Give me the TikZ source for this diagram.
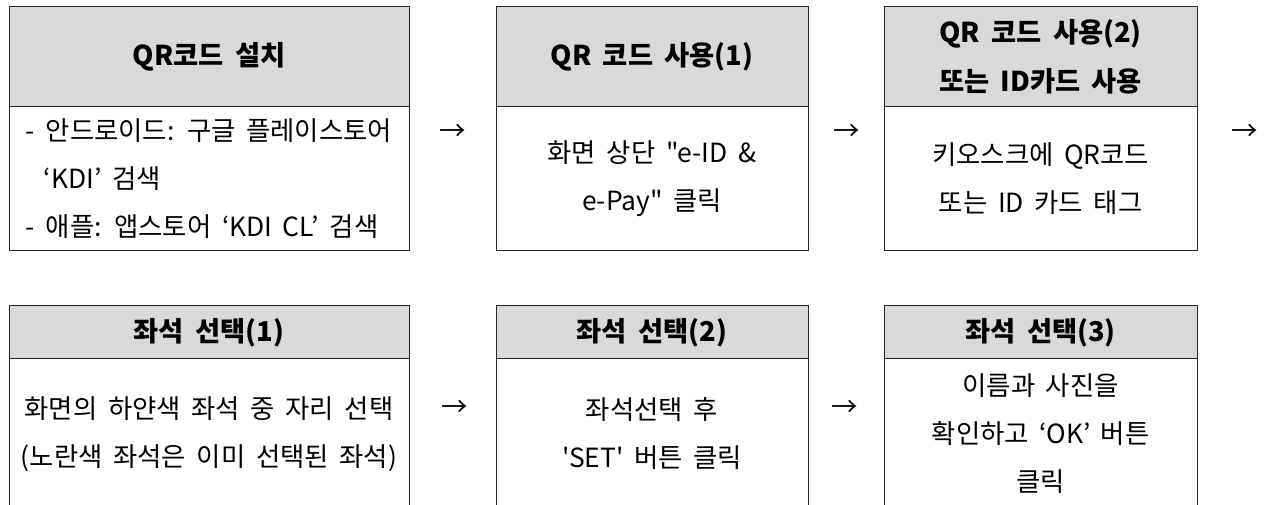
\documentclass[tikz,border=0pt]{standalone}
\usepackage{fontspec}
\setmainfont{Noto Sans CJK KR}[Ligatures=TeXOff, WordSpace=1.8]
\usetikzlibrary{positioning}
\definecolor{headgray}{HTML}{D9D9D9}
\definecolor{edgegray}{HTML}{262626}

\begin{document}
\begin{tikzpicture}[x=0.75pt, y=-0.75pt, font=\fontsize{19.8}{36}\selectfont,
    every node/.style = {inner sep=0pt, outer sep=0pt},
    head/.style = {draw=edgegray, line width=0.75pt, fill=headgray, align=center,
                   anchor=north west, font=\fontsize{20.5}{36.5}\selectfont\bfseries},
    body/.style = {draw=edgegray, line width=0.75pt, align=center}]
    \useasboundingbox (0,0) rectangle (1266,505);

    % first row
    \node[head, minimum width=300pt, minimum height=75pt] (h1) at (9,7) {QR코드 설치};
    \node[head, minimum width=234pt, minimum height=75pt] (h2) at (496,7) {QR 코드 사용(1)};
    \node[head, minimum width=235pt, minimum height=75pt] (h3) at (884,7) {QR 코드 사용(2)\\또는 ID카드 사용};
    \node[body, align=left, minimum width=300pt, minimum height=108pt] (b1) [below=0pt of h1]
        {- 안드로이드: 구글 플레이스토어\\\hspace*{13.5pt}‘KDI’ 검색\\- 애플: 앱스토어 ‘KDI CL’ 검색};
    \node[body, minimum width=234pt, minimum height=108pt] (b2) [below=0pt of h2] {화면 상단 "e-ID \&\\e-Pay" 클릭};
    \node[body, minimum width=235pt, minimum height=108pt] (b3) [below=0pt of h3] {키오스크에 QR코드\\또는 ID 카드 태그};

    % second row
    \node[head, minimum width=300pt, minimum height=39.75pt] (h4) at (9,306) {좌석 선택(1)};
    \node[head, minimum width=234pt, minimum height=39.75pt] (h5) at (496,306) {좌석 선택(2)};
    \node[head, minimum width=235pt, minimum height=39.75pt] (h6) at (884,306) {좌석 선택(3)};
    \node[body, minimum width=300pt, minimum height=112.5pt] (b4) [below=0pt of h4]
        {화면의 하얀색 좌석 중 자리 선택\\(노란색 좌석은 이미 선택된 좌석)};
    \node[body, minimum width=234pt, minimum height=112.5pt] (b5) [below=0pt of h5] {좌석선택 후\\'SET' 버튼 클릭};
    \node[body, minimum width=235pt, minimum height=112.5pt] (b6) [below=0pt of h6] {이름과 사진을\\확인하고 ‘OK’ 버튼\\클릭};

    % arrows between the steps
    \node (a1) at (453,132) {→};
    \node (a2) at (847,132) {→};
    \node (a3) at (1245,132) {→};
    \node (a4) at (455,408) {→};
    \node (a5) at (845,408) {→};
\end{tikzpicture}
\end{document}
